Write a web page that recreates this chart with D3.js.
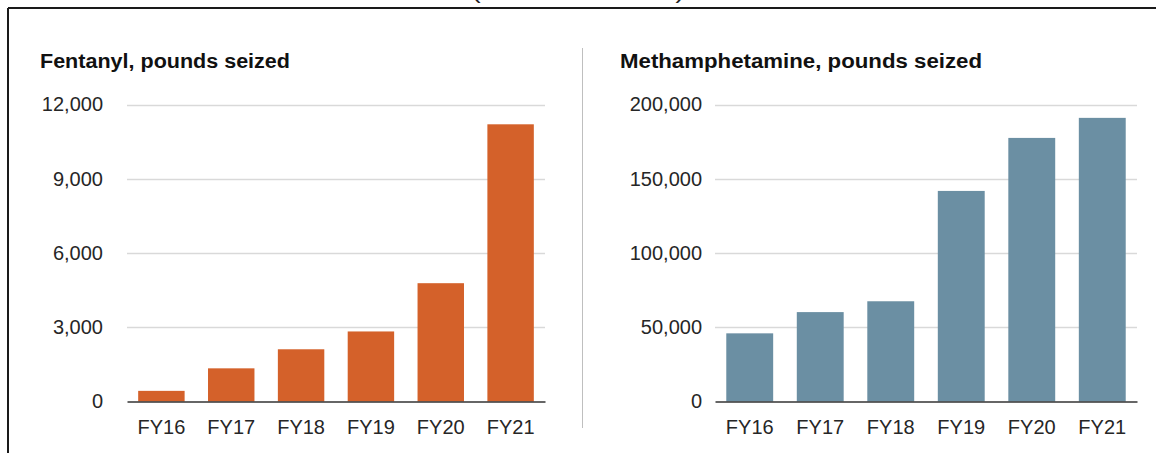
<!DOCTYPE html>
<html>
<head>
<meta charset="utf-8">
<script src="https://cdn.jsdelivr.net/npm/d3@7"></script>
<style>
  html, body { margin: 0; padding: 0; background: #fff; }
  svg text { font-family: "Liberation Sans", Arial, sans-serif; }
</style>
</head>
<body>
<svg id="chart" width="1156" height="453"></svg>
<script>
const categories = ["FY16", "FY17", "FY18", "FY19", "FY20", "FY21"];
const fentanylValues = [430, 1340, 2110, 2830, 4780, 11200];
const methValues = [45900, 60200, 67500, 141800, 177500, 191000];
const fentanylTicks = [0, 3000, 6000, 9000, 12000];
const methTicks = [0, 50000, 100000, 150000, 200000];
const panelTitles = ["Fentanyl, pounds seized", "Methamphetamine, pounds seized"];
const topNote = "(fiscal 2016\u20132021)";

const svg = d3.select("#chart");

// frame
svg.append("line").attr("x1", 8).attr("x2", 1156).attr("y1", 8).attr("y2", 8)
  .attr("stroke", "#1a1a1a").attr("stroke-width", 2);
svg.append("line").attr("x1", 8).attr("x2", 8).attr("y1", 8).attr("y2", 453)
  .attr("stroke", "#1a1a1a").attr("stroke-width", 2);

// heading above the frame (cut off by the top edge, as in the reference)
svg.append("text").attr("x", 578).attr("y", -1).attr("text-anchor", "middle")
  .attr("font-size", 20).attr("fill", "#222")
  .attr("textLength", 212).attr("lengthAdjust", "spacingAndGlyphs")
  .text(topNote);

// divider
svg.append("line").attr("x1", 582.5).attr("x2", 582.5).attr("y1", 48).attr("y2", 428)
  .attr("stroke", "#bfbfbf").attr("stroke-width", 1);

const fmt = d3.format(",");

function panel(opts) {
  const { left, right, labelX, titleX, titleW, values, ticks, max, color, title } = opts;
  const y = d3.scaleLinear().domain([0, max]).range([401.5, 104.5]);
  const x = d3.scaleBand().domain(categories).range([left, right]).paddingInner(0.335).paddingOuter(0.16);
  const g = svg.append("g");

  g.append("text").attr("x", titleX).attr("y", 68).attr("font-size", 20)
    .attr("font-weight", "bold").attr("fill", "#111")
    .attr("textLength", titleW).attr("lengthAdjust", "spacingAndGlyphs")
    .text(title);

  // gridlines
  g.selectAll(".grid").data(ticks.filter(t => t > 0)).enter().append("line")
    .attr("x1", left).attr("x2", right)
    .attr("y1", d => Math.round(y(d)) + 0.5).attr("y2", d => Math.round(y(d)) + 0.5)
    .attr("stroke", "#d9d9d9").attr("stroke-width", 1.3);

  // y labels
  const yAxis = d3.axisLeft(y).tickValues(ticks).tickFormat(fmt).tickSize(0);
  const ya = g.append("g").attr("transform", `translate(${labelX},0)`).call(yAxis);
  ya.select(".domain").remove();
  ya.selectAll("text").attr("font-size", 20).attr("fill", "#262626")
    .attr("font-family", "Liberation Sans, Arial, sans-serif").attr("x", 0);

  // bars
  g.selectAll(".bar").data(values).enter().append("rect")
    .attr("x", (d, i) => x(categories[i]))
    .attr("width", x.bandwidth())
    .attr("y", d => y(d))
    .attr("height", d => y(0) - y(d))
    .attr("fill", color);

  // x axis
  const xAxis = d3.axisBottom(x).tickSize(0).tickSizeOuter(0);
  const xa = g.append("g").attr("transform", `translate(0,${y(0)})`).call(xAxis);
  xa.select(".domain").attr("stroke", "#333").attr("stroke-width", 1.6);
  xa.selectAll("text").attr("font-size", 20).attr("fill", "#262626")
    .attr("font-family", "Liberation Sans, Arial, sans-serif")
    .attr("dy", null).attr("y", 32);
}

panel({ left: 127, right: 545, labelX: 103, titleX: 40, titleW: 250, values: fentanylValues,
  ticks: fentanylTicks, max: 12000, color: "#d4612a", title: panelTitles[0] });
panel({ left: 715, right: 1137, labelX: 702, titleX: 620, titleW: 362, values: methValues,
  ticks: methTicks, max: 200000, color: "#6b8fa3", title: panelTitles[1] });
</script>
</body>
</html>
